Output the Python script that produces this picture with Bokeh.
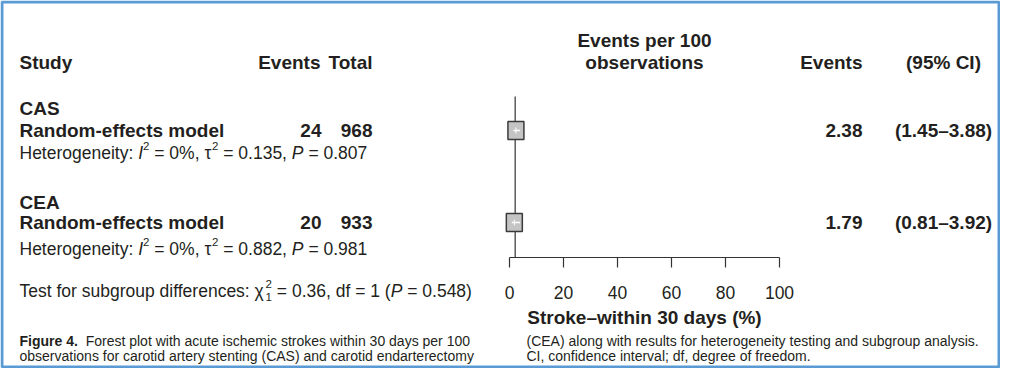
from bokeh.plotting import figure
from bokeh.models import Range1d, ColumnDataSource
from bokeh.core.properties import value
from bokeh.embed import file_html
from bokeh.resources import INLINE

# ---------------- data ----------------
groups = ["CAS", "CEA"]
model_label = "Random-effects model"
events = [24, 20]
totals = [968, 933]
estimates = [2.38, 1.79]
ci_low = [1.45, 0.81]
ci_high = [3.88, 3.92]
het_i2 = ["0%", "0%"]
het_tau2 = ["0.135", "0.882"]
het_p = ["0.807", "0.981"]
overall = 2.1
x_ticks = [0, 20, 40, 60, 80, 100]
test_chi2 = "0.36"
test_df = "1"
test_p = "0.548"
axis_label = "Stroke\u2013within 30 days (%)"
caption_left = ["Forest plot with acute ischemic strokes within 30 days per 100",
                "observations for carotid artery stenting (CAS) and carotid endarterectomy"]
caption_right = ["(CEA) along with results for heterogeneity testing and subgroup analysis.",
                 "CI, confidence interval; df, degree of freedom."]

# ---------------- layout ----------------
W, H = 1000, 368
X0PX, PXU = 509.0, 2.7          # pixel of x=0, pixels per unit
FONT = "Liberation Sans"
INK = "#231f20"
BOLD = "19px"
REG = 17.5
NB = "\u00a0"

p = figure(width=W, height=H, output_backend="svg", toolbar_location=None,
           x_range=Range1d(-X0PX / PXU, (W - X0PX) / PXU), y_range=Range1d(H, 0),
           x_axis_location=None, y_axis_location=None, min_border=0,
           outline_line_color=None)
p.extra_x_ranges = {"px": Range1d(0, W)}
p.grid.visible = False
p.background_fill_color = "white"
p.border_fill_color = "white"

# frame border
p.quad(left=[1.5], right=[W - 1.5], top=[1.5], bottom=[H - 1.5], x_range_name="px",
       fill_color=None, line_color="#5b9bd5", line_width=3)

# Arial / Liberation Sans advance widths (1/1000 em)
AW = {' ': 278, NB: 278, '%': 889, '(': 333, ')': 333, ',': 278, '-': 333, '.': 278, ':': 278,
      ';': 278, '=': 584, 'A': 667, 'C': 722, 'E': 667, 'H': 722, 'I': 278, 'P': 667, 'S': 667,
      'T': 611, 'a': 556, 'b': 556, 'c': 500, 'd': 556, 'e': 556, 'f': 278, 'g': 556, 'h': 556,
      'i': 222, 'k': 500, 'l': 222, 'm': 833, 'n': 556, 'o': 556, 'p': 556, 'r': 333, 's': 500,
      't': 278, 'u': 556, 'v': 500, 'w': 722, 'x': 500, 'y': 500, 'z': 500, '\u03c4': 434,
      '\u03c7': 500, '\u2013': 556}
BW = {'F': 611, 'i': 278, 'g': 611, 'u': 611, 'r': 389, 'e': 556, ' ': 278, '.': 278}


def tw(s, size, table=AW):
    return sum(table.get(c, 556) for c in s) / 1000.0 * size


def keep_edges(s):
    # SVG collapses leading / trailing blanks: protect them
    lead = len(s) - len(s.lstrip(" "))
    trail = len(s) - len(s.rstrip(" "))
    core = s.strip(" ")
    return NB * lead + core + NB * trail


runs = {"x": [], "y": [], "text": [], "style": [], "size": []}


def place(x, y, parts):
    for txt, style, size, dy, adv in parts:
        runs["x"].append(x)
        runs["y"].append(y + dy)
        runs["text"].append(keep_edges(txt))
        runs["style"].append(style)
        runs["size"].append(f"{size}px")
        if adv:
            x += tw(txt, size)
    return x


def btext(xs, ys, texts, align="left", rng="px", size=BOLD, style="bold"):
    kw = dict(x_range_name=rng) if rng else {}
    p.text(x=xs, y=ys, text=texts, text_align=align, text_baseline="middle",
           text_font=value(FONT), text_font_size=size, text_font_style=style,
           text_color=INK, **kw)


# headers
btext([19], [62], ["Study"])
btext([320], [62], ["Events"], align="right")
btext([372], [62], ["Total"], align="right")
btext([862], [62], ["Events"], align="right")
btext([943], [62], ["(95% CI)"], align="center")
btext([50, 50], [40, 62], ["Events per 100", "observations"], align="center", rng=None)

group_y = [108, 202]
row_y = [130, 222]
het_y = [152, 248]

btext([19] * 2, group_y, groups)
btext([19] * 2, row_y, [model_label] * 2)
btext([321] * 2, row_y, [str(v) for v in events], align="right")
btext([372] * 2, row_y, [str(v) for v in totals], align="right")
btext([862] * 2, row_y, [f"{v:.2f}" for v in estimates], align="right")
btext([943] * 2, row_y, [f"({a:.2f}\u2013{b:.2f})" for a, b in zip(ci_low, ci_high)], align="center")

SUP = 11.5
for i in range(2):
    place(19, het_y[i], [
        ("Heterogeneity: ", "normal", REG, 0, True),
        ("I", "italic", REG, 0, True),
        ("2", "normal", SUP, -7, True),
        (f" = {het_i2[i]}, \u03c4", "normal", REG, 0, True),
        ("2", "normal", SUP, -7, True),
        (f" = {het_tau2[i]}, ", "normal", REG, 0, True),
        ("P", "italic", REG, 0, True),
        (f" = {het_p[i]}", "normal", REG, 0, True),
    ])

place(19, 290, [
    ("Test for subgroup differences: \u03c7", "normal", REG, 0, True),
    ("2", "normal", SUP, -7, False),
    ("1", "normal", SUP, 6, True),
    (f" = {test_chi2}, df = {test_df} (", "normal", REG, 0, True),
    ("P", "italic", REG, 0, True),
    (f" = {test_p})", "normal", REG, 0, True),
])

# caption
CAP = 14
fig_label = "Figure 4."
CY1, CY2 = 340, 355
place(19, CY1, [(fig_label, "bold", CAP, 0, False)])
fig_w = sum(BW.get(c, 556) for c in fig_label) / 1000.0 * CAP
place(19 + fig_w, CY1, [("  " + caption_left[0], "normal", CAP, 0, True)])
place(19, CY2, [(caption_left[1], "normal", CAP, 0, True)])
place(526, CY1, [(caption_right[0], "normal", CAP, 0, True)])
place(526, CY2, [(caption_right[1], "normal", CAP, 0, True)])

src = ColumnDataSource(runs)
p.text(x="x", y="y", text="text", source=src, x_range_name="px",
       text_font_style="style", text_font_size="size", text_align="left",
       text_baseline="middle", text_font=value(FONT), text_color=INK)

# ---------------- forest part (data coordinates) ----------------
AX_Y = 257
p.segment(x0=[overall], y0=[96], x1=[overall], y1=[AX_Y], line_color="#333333", line_width=1.2)
p.rect(x=estimates, y=row_y, width=16, height=18, width_units="screen", height_units="screen",
       fill_color="#c4c4c4", line_color="#3a3a3a", line_width=1.5)
p.segment(x0=ci_low, y0=row_y, x1=ci_high, y1=row_y, line_color="white", line_width=1.3)
p.segment(x0=estimates, y0=[y - 3 for y in row_y], x1=estimates, y1=[y + 3 for y in row_y],
          line_color="white", line_width=1.0)

# axis
p.segment(x0=[min(x_ticks)], y0=[AX_Y], x1=[max(x_ticks)], y1=[AX_Y], line_color="#333333", line_width=1.2)
p.segment(x0=x_ticks, y0=[AX_Y] * len(x_ticks), x1=x_ticks, y1=[AX_Y + 10] * len(x_ticks),
          line_color="#333333", line_width=1.2)
p.text(x=x_ticks, y=[292] * len(x_ticks), text=[str(t) for t in x_ticks], text_align="center",
       text_baseline="middle", text_font=value(FONT), text_font_size="17.5px", text_color=INK)
btext([50], [317], [axis_label], align="center", rng=None)

open("out.html", "w").write(file_html(p, INLINE))
